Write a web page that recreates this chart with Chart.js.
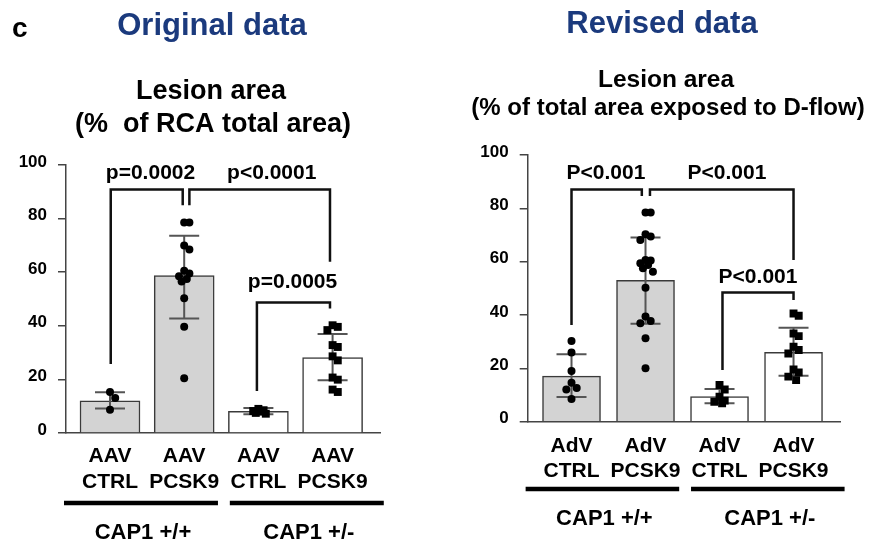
<!DOCTYPE html>
<html><head><meta charset="utf-8">
<script src="https://cdn.jsdelivr.net/npm/chart.js@4.4.0/dist/chart.umd.min.js"></script>
<style>
html,body{margin:0;padding:0;background:#fff;}
body{width:869px;height:545px;position:relative;overflow:hidden;}
canvas{position:absolute;top:0;}
</style></head><body>
<canvas id="orig" width="440" height="545" style="left:0"></canvas>
<canvas id="rev" width="429" height="545" style="left:440px"></canvas>
<script>
// ---------- data ----------
const origCategories = [['AAV','CTRL'],['AAV','PCSK9'],['AAV','CTRL'],['AAV','PCSK9']];
const revCategories  = [['AdV','CTRL'],['AdV','PCSK9'],['AdV','CTRL'],['AdV','PCSK9']];
const groupLabels = ['CAP1 +/+','CAP1 +/-'];
const yTicks = [0,20,40,60,80,100];

const origMeans  = [12.0, 58.7, 8.1, 28.1];
const origSdHigh = [15.2, 73.6, 9.3, 36.9];
const origSdLow  = [9.1, 42.7, 7.0, 19.7];
const origCtrlWT  = [15.3, 13.1, 8.7];
const origPcskWT  = [78.5, 78.5, 70, 68.5, 60.5, 59.5, 58.5, 57.5, 56.5, 50.3, 39.6, 20.4];
const origCtrlHet = [9.0, 8.5, 8.0, 7.5, 7.2, 8.2];
const origPcskHet = [40.2, 39.6, 38.4, 32.8, 32.1, 28.6, 27.1, 20.7, 19.9, 16.2, 15.3];
const origPValues = ['p=0.0002','p<0.0001','p=0.0005'];

const revMeans  = [17.1, 53.0, 9.4, 26.0];
const revSdHigh = [25.25, 69.1, 12.25, 35.25];
const revSdLow  = [9.25, 36.75, 6.9, 17.25];
const revCtrlWT  = [30.25, 25.9, 19, 14.6, 12.6, 12.1, 8.5];
const revPcskWT  = [78.4, 78.4, 70.25, 69.4, 68.1, 60.6, 60.4, 59.4, 58.75, 57.5, 56.25, 50.25, 39.4, 37.75, 36.9, 31.25, 20];
const revCtrlHet = [13.75, 12.1, 9.4, 7.9, 6.9, 7.5];
const revPcskHet = [40.6, 39.75, 33.1, 32.1, 28.1, 26.9, 25.6, 19.6, 18.5, 16.9, 15.6];
const revPValues = ['P<0.001','P<0.001','P<0.001'];

// ---------- helpers ----------
const FONT = "'Liberation Sans', Arial, sans-serif";
Chart.defaults.font.family = FONT;
const NAVY = '#1b3a7d';

// deterministic horizontal spread for overlapping dots
function spread(vals){
  const order = vals.map((v,i)=>i).sort((a,b)=>vals[b]-vals[a]);
  const off = new Array(vals.length).fill(0);
  const pattern = [0, 0.07, -0.07, 0.035, -0.035, 0.1];
  let k = 0, prev = null;
  for (const i of order){
    if (prev !== null && Math.abs(vals[prev]-vals[i]) < 2.5) k++; else k = 0;
    off[i] = pattern[k % pattern.length];
    prev = i;
  }
  return off;
}
function pts(vals, idx){
  const o = spread(vals);
  return vals.map((v,i)=>({x: idx + o[i], y: v}));
}

const decor = {
  id: 'decor',
  afterDatasetDraw(chart, args, opts){
    if (args.index !== 0) return;
    const ctx = chart.ctx, xs = chart.scales.x, ys = chart.scales.y;
    ctx.save();
    ctx.strokeStyle = '#555'; ctx.lineWidth = 2;
    opts.means.forEach((m,i)=>{
      const x = xs.getPixelForValue(i);
      const yh = ys.getPixelForValue(opts.hi[i]), yl = ys.getPixelForValue(opts.lo[i]);
      ctx.beginPath();
      ctx.moveTo(x, yh); ctx.lineTo(x, yl);
      ctx.moveTo(x-15, yh); ctx.lineTo(x+15, yh);
      ctx.moveTo(x-15, yl); ctx.lineTo(x+15, yl);
      ctx.stroke();
    });
    ctx.restore();
  },
  afterDraw(chart, args, opts){
    const ctx = chart.ctx, xs = chart.scales.x, ys = chart.scales.y;
    ctx.save();
    // brackets
    ctx.strokeStyle = '#111'; ctx.lineWidth = 2.5; ctx.lineJoin = 'miter';
    ctx.fillStyle = '#000';
    ctx.font = `bold 21px ${FONT}`; ctx.textAlign = 'center'; ctx.textBaseline = 'alphabetic';
    opts.brackets.forEach((b,i)=>{
      const x1 = xs.getPixelForValue(b.x1), x2 = xs.getPixelForValue(b.x2);
      const yt = ys.getPixelForValue(b.top);
      ctx.beginPath();
      ctx.moveTo(x1, ys.getPixelForValue(b.end1));
      ctx.lineTo(x1, yt); ctx.lineTo(x2, yt);
      ctx.lineTo(x2, ys.getPixelForValue(b.end2));
      ctx.stroke();
      ctx.fillText(opts.pvalues[i], xs.getPixelForValue(b.lx), ys.getPixelForValue(b.ly));
    });
    // group lines + labels
    const base = chart.chartArea.bottom;
    ctx.lineWidth = 4.5; ctx.strokeStyle = '#000';
    ctx.font = `bold 22px ${FONT}`;
    opts.groups.forEach((g,i)=>{
      const a = xs.getPixelForValue(g[0]), b = xs.getPixelForValue(g[1]);
      ctx.beginPath();
      ctx.moveTo(a, base + opts.lineOff); ctx.lineTo(b, base + opts.lineOff);
      ctx.stroke();
      ctx.fillText(groupLabels[i], (a+b)/2 + 2, base + opts.labelOff);
    });
    // headings
    opts.headings.forEach(h=>{
      ctx.font = `bold ${h.size}px ${FONT}`;
      ctx.fillStyle = h.color || '#000';
      ctx.textAlign = h.align || 'center';
      ctx.fillText(h.text, h.x, h.y);
    });
    ctx.restore();
  }
};

function makeChart(id, c){
  const fills = ['#d3d3d3','#d3d3d3','#ffffff','#ffffff'];
  const circles = [...pts(c.g[0],0), ...pts(c.g[1],1)];
  const squares = [...pts(c.g[2],2), ...pts(c.g[3],3)];
  return new Chart(document.getElementById(id), {
    type: 'bar',
    data: { datasets: [
      { type:'bar', order:3, data: c.means.map((m,i)=>({x:i, y:m})),
        backgroundColor: fills, borderColor:'#3a3a3a', borderWidth:1.5,
        barThickness: c.barW, borderSkipped:'start' },
      { type:'scatter', order:1, data: circles, pointStyle:'circle', pointRadius:4,
        backgroundColor:'#000', borderColor:'#000', borderWidth:0 },
      { type:'scatter', order:1, data: squares, pointStyle:'rect', pointRadius:5.6,
        backgroundColor:'#000', borderColor:'#000', borderWidth:0 }
    ]},
    options: {
      responsive:false, animation:false,
      layout:{ padding: c.padding },
      plugins:{ legend:{display:false}, tooltip:{enabled:false},
        decor: { means:c.means, hi:c.hi, lo:c.lo, brackets:c.brackets, pvalues:c.pvalues,
                 groups:[[-0.62,1.455],[1.615,3.69]], lineOff:c.lineOff, labelOff:c.labelOff,
                 headings:c.headings } },
      scales:{
        x:{ type:'linear', min:c.xMin, max:c.xMax, offset:false,
            grid:{display:false, offset:false}, border:{display:true, color:'#444', width:1.5},
            afterBuildTicks: s => { s.ticks = c.categories.map((_,i)=>({value:i})); },
            afterFit: s => { s.height = c.xAxisH; },
            ticks:{ autoSkip:false, maxRotation:0, minRotation:0, padding:c.tickPad, color:'#000',
                    font:{size:21, weight:'bold', lineHeight:1.2},
                    callback:(v,i)=>c.categories[i] } },
        y:{ min:0, max:100,
            afterBuildTicks: s => { s.ticks = yTicks.map(v=>({value:v})); },
            afterFit: s => { s.width = 50; },
            grid:{ drawOnChartArea:false, drawTicks:true, tickLength:8, color:'#444', lineWidth:1.5 },
            border:{ color:'#444', width:1.5 },
            ticks:{ padding:11, labelOffset:-3, color:'#000', font:{size:17, weight:'bold'} } }
      }
    },
    plugins:[decor]
  });
}

makeChart('orig', {
  categories: origCategories, means: origMeans, hi: origSdHigh, lo: origSdLow,
  g: [origCtrlWT, origPcskWT, origCtrlHet, origPcskHet], pvalues: origPValues,
  brackets: [
    {x1:0.01, x2:0.98, top:90.9, end1:25.7, end2:85, lx:0.546, ly:94.6},
    {x1:1.07, x2:2.965, top:90.9, end1:85, end2:63.9, lx:2.18, ly:94.6},
    {x1:1.98, x2:2.965, top:48.7, end1:15.7, end2:46.5, lx:2.46, ly:54.0}
  ],
  padding:{left:16, right:60, top:165, bottom:0},
  xMin:-0.593, xMax:3.639, barW:60, xAxisH:112, tickPad:3,
  lineOff:70, labelOff:106,
  headings:[
    {text:'c', x:12, y:37, size:28, align:'left'},
    {text:'Original data', x:212, y:35, size:31, color:NAVY},
    {text:'Lesion area', x:211, y:99, size:27},
    {text:'(%  of RCA total area)', x:213, y:132, size:27}
  ]
});

makeChart('rev', {
  categories: revCategories, means: revMeans, hi: revSdHigh, lo: revSdLow,
  g: [revCtrlWT, revPcskWT, revCtrlHet, revPcskHet], pvalues: revPValues,
  brackets: [
    {x1:0.0, x2:0.95, top:87.1, end1:36.25, end2:84.6, lx:0.466, ly:90.9},
    {x1:1.06, x2:3.0, top:87.1, end1:84.6, end2:60.6, lx:2.10, ly:90.9},
    {x1:2.04, x2:3.0, top:48.4, end1:19.4, end2:45.6, lx:2.52, ly:51.9}
  ],
  padding:{left:37.7, right:29, top:155, bottom:0},
  xMin:-0.592, xMax:3.628, barW:58, xAxisH:123.3, tickPad:3.5,
  lineOff:67.3, labelOff:103.3,
  headings:[
    {text:'Revised data', x:222, y:33, size:31, color:NAVY},
    {text:'Lesion area', x:226, y:87, size:24.5},
    {text:'(% of total area exposed to D-flow)', x:228, y:115, size:24}
  ]
});
</script>
</body></html>
